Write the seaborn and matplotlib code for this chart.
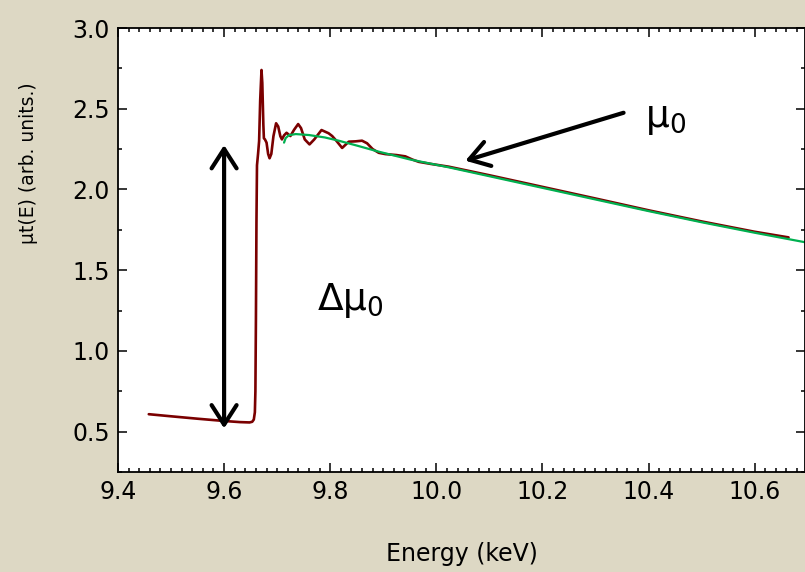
import matplotlib
matplotlib.use("Agg")
import matplotlib.pyplot as plt
import seaborn as sns
import pandas as pd
from matplotlib.ticker import MultipleLocator

# ---- data ----
red_x = [9.458, 9.50, 9.55, 9.60, 9.63, 9.648, 9.653, 9.656, 9.658, 9.659, 9.660,
         9.661, 9.662, 9.664, 9.666, 9.668, 9.6705, 9.672, 9.674, 9.675, 9.677,
         9.680, 9.683, 9.6857, 9.689, 9.693, 9.698, 9.702, 9.706, 9.709, 9.713,
         9.7177, 9.725, 9.732, 9.7396, 9.745, 9.752, 9.761, 9.770, 9.7836, 9.797,
         9.8037, 9.812, 9.8225, 9.835, 9.848, 9.860, 9.8695, 9.880, 9.8915, 9.904,
         9.925, 9.9416, 9.955, 9.967, 9.990, 10.0235, 10.10, 10.20, 10.30, 10.40,
         10.50, 10.60, 10.664]
red_y = [0.608, 0.595, 0.580, 0.566, 0.559, 0.557, 0.561, 0.575, 0.62, 0.75, 1.2,
         1.8, 2.15, 2.22, 2.30, 2.55, 2.74, 2.66, 2.40, 2.317, 2.31,
         2.29, 2.22, 2.193, 2.22, 2.33, 2.41, 2.39, 2.33, 2.31, 2.335,
         2.351, 2.331, 2.37, 2.405, 2.38, 2.31, 2.279, 2.31, 2.368, 2.348,
         2.331, 2.30, 2.257, 2.296, 2.298, 2.302, 2.286, 2.25, 2.227, 2.219,
         2.213, 2.205, 2.185, 2.171, 2.158, 2.141, 2.088, 2.016, 1.944, 1.871,
         1.802, 1.738, 1.703]

fit_x = [9.713, 9.716, 9.722, 9.735, 9.760, 9.790, 9.816, 9.850, 9.8915, 9.95,
         10.0235, 10.10, 10.20, 10.30, 10.40, 10.50, 10.60, 10.70]
fit_y = [2.29, 2.318, 2.336, 2.343, 2.337, 2.322, 2.302, 2.272, 2.234, 2.186,
         2.137, 2.082, 2.010, 1.938, 1.866, 1.797, 1.732, 1.670]

x_ticks = [9.4, 9.6, 9.8, 10.0, 10.2, 10.4, 10.6]
y_ticks = [0.5, 1.0, 1.5, 2.0, 2.5, 3.0]

edge_arrow_x = 9.6
edge_arrow_y = [0.52, 2.275]
mu0_arrow_tail = (10.353, 2.475)
mu0_arrow_tip = (10.0548, 2.178)

# ---- plotting ----
sns.set_style("ticks")
plt.rcParams['font.family'] = ['DejaVu Sans']
plt.rcParams['text.color'] = 'black'
plt.rcParams['axes.labelcolor'] = 'black'
plt.rcParams['xtick.color'] = 'black'
plt.rcParams['ytick.color'] = 'black'

BG = '#ddd8c4'
fig = plt.figure(figsize=(8.05, 5.72), dpi=100, facecolor=BG)
ax = fig.add_axes([118/805, 1 - 472/572, 687/805, 444/572])
ax.set_facecolor('white')

df_red = pd.DataFrame({'E': red_x, 'mu': red_y})
df_fit = pd.DataFrame({'E': fit_x, 'mu': fit_y})
sns.lineplot(data=df_red, x='E', y='mu', sort=False, color='#7a0000', lw=1.9, ax=ax)
sns.lineplot(data=df_fit, x='E', y='mu', sort=False, color='#00b050', lw=1.6, ax=ax)

ax.set_xlim(9.4, 10.695)
ax.set_ylim(0.25, 3.0)
ax.set_xticks(x_ticks)
ax.set_xticklabels([f"{v:.1f}" for v in x_ticks])
ax.set_yticks(y_ticks)
ax.set_yticklabels([f"{v:.1f}" for v in y_ticks])
ax.xaxis.set_minor_locator(MultipleLocator(0.02))
ax.yaxis.set_minor_locator(MultipleLocator(0.25))
ax.tick_params(which='both', direction='in', top=True, right=True, colors='black',
               labelcolor='black', width=1.1)
ax.tick_params(which='major', length=6.5, labelsize=17, pad=6)
ax.tick_params(which='minor', length=3)
for s in ax.spines.values():
    s.set_visible(True)
    s.set_linewidth(1.3)
    s.set_color('black')

ax.set_xlabel('Energy (keV)', fontsize=17, color='black')
ax.set_ylabel('μt(E) (arb. units.)', fontsize=13.5, color='black')
ax.xaxis.set_label_coords(0.5, -0.158)
ax.yaxis.set_label_coords(-0.117, 0.695)

# arrows
ax.annotate('', xy=(edge_arrow_x, edge_arrow_y[0]), xytext=(edge_arrow_x, edge_arrow_y[1]),
            arrowprops=dict(arrowstyle='<->,head_length=0.7,head_width=0.45',
                            mutation_scale=20, lw=3, color='black',
                            shrinkA=0, shrinkB=0))
ax.annotate('', xy=mu0_arrow_tip, xytext=mu0_arrow_tail,
            arrowprops=dict(arrowstyle='->,head_length=0.7,head_width=0.45',
                            mutation_scale=20, lw=3, color='black',
                            shrinkA=0, shrinkB=0))

ax.text(10.394, 2.387, 'μ$_{\\mathregular{0}}$', fontsize=27, ha='left',
        va='baseline', color='black')
ax.text(9.775, 1.253, 'Δμ$_{\\mathregular{0}}$', fontsize=27, ha='left',
        va='baseline', color='black')

fig.savefig('out.png', dpi=100, facecolor=BG)
